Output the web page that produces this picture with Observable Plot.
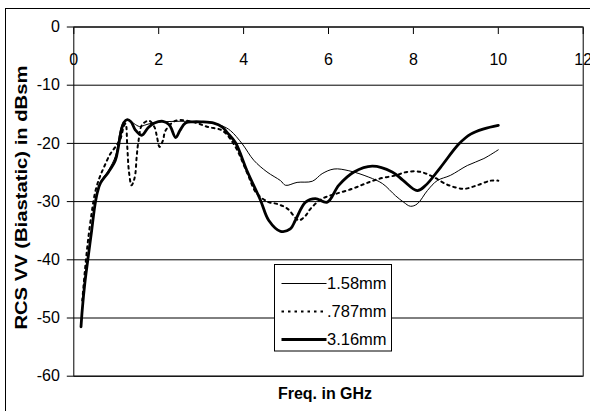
<!DOCTYPE html>
<html>
<head>
<meta charset="utf-8">
<script src="https://cdn.jsdelivr.net/npm/d3@7"></script>
<script src="https://cdn.jsdelivr.net/npm/@observablehq/plot@0.6"></script>
<style>
  html, body { margin: 0; padding: 0; background: #fff; overflow: hidden; }
  #chart svg { display: block; }
</style>
</head>
<body>
<div id="chart"></div>
<script>
// Bistatic RCS (VV) versus frequency for three thicknesses
const freq158 = [0.2,0.26,0.33,0.42,0.5,0.56,0.63,0.82,0.98,1.05,1.12,1.2,1.3,1.42,1.55,1.7,1.85,2.1,2.5,3.0,3.3,3.5,3.69,3.97,4.24,4.55,4.87,4.99,5.26,5.62,5.85,6.13,6.48,6.95,7.27,7.58,7.77,7.93,8.09,8.33,8.56,8.87,9.27,9.66,10.0];
const rcs158  = [-47,-43.5,-39.8,-35,-30.5,-28.2,-26.6,-24.6,-22.2,-19.6,-17.1,-16.1,-16,-16.6,-17.1,-16.8,-16.5,-16.3,-16.2,-16.3,-16.6,-17.0,-17.8,-20.1,-22.9,-24.9,-26.4,-27.2,-26.7,-26.5,-25.2,-24.4,-24.7,-25.8,-26.9,-29.0,-30.1,-30.8,-30.4,-28.1,-26.4,-25.5,-23.8,-22.6,-21.1];

const freq787 = [0.2,0.26,0.33,0.42,0.5,0.6,0.71,0.86,0.98,1.1,1.18,1.22,1.26,1.3,1.36,1.41,1.45,1.48,1.52,1.61,1.77,1.9,1.96,2.02,2.1,2.16,2.4,2.8,3.17,3.5,3.8,4.08,4.3,4.59,4.79,5.03,5.3,5.45,5.58,5.85,6.16,6.56,6.87,7.18,7.58,7.85,8.17,8.48,8.8,9.19,9.5,9.82,10.0];
const rcs787  = [-47,-42,-37,-32,-28.5,-26,-24.1,-21.8,-20.6,-19.2,-17,-16.6,-20.6,-24.9,-27.2,-26.5,-25.2,-22.4,-19.8,-16.8,-16.1,-17.2,-18.9,-20.6,-19.5,-17.8,-16.1,-16.3,-17.2,-17.8,-20.5,-25,-28.5,-30.1,-30.4,-31.2,-33.2,-32.5,-31.2,-29.5,-28.7,-27.8,-26.9,-26.1,-25.5,-24.9,-24.9,-25.8,-27.1,-27.8,-27.2,-26.4,-26.4];

const freq316 = [0.17,0.2,0.26,0.33,0.42,0.5,0.56,0.63,0.82,0.98,1.05,1.1,1.18,1.26,1.35,1.45,1.6,1.75,1.9,2.1,2.25,2.4,2.5,2.63,2.8,3.0,3.3,3.5,3.61,3.81,4.08,4.4,4.59,4.87,5.1,5.22,5.46,5.69,5.97,6.24,6.6,7.03,7.5,7.75,8.09,8.29,8.64,9.07,9.35,9.66,10.0];
const rcs316  = [-51.5,-48.5,-44,-40,-35,-30.5,-28.3,-26.8,-24.9,-22.9,-20.6,-18.4,-16.4,-15.9,-16.3,-17.7,-18.6,-17.3,-16.5,-16.2,-16.8,-19.0,-17.8,-16.5,-16.3,-16.3,-16.5,-17.2,-18.1,-19.9,-24.7,-29.8,-33.2,-35.1,-34.7,-33.2,-30.1,-29.5,-30.1,-27.2,-24.9,-23.9,-24.9,-26.3,-28.1,-27.2,-24.1,-20.1,-18.4,-17.5,-16.9];

const seriesNames = ["1.58mm", ".787mm", "3.16mm"];
const xTicks = [0, 2, 4, 6, 8, 10, 12];
const yTicks = [0, -10, -20, -30, -40, -50, -60];
const xTitle = "Freq. in GHz";
const yTitle = "RCS VV (Biastatic) in dBsm";

const toRows = (fs, vs) => fs.map((f, i) => ({f, v: vs[i]}));
const rows158 = toRows(freq158, rcs158);
const rows787 = toRows(freq787, rcs787);
const rows316 = toRows(freq316, rcs316);

const styles = [
  {strokeWidth: 1, strokeDasharray: null},
  {strokeWidth: 2, strokeDasharray: "2.5,4"},
  {strokeWidth: 2.8, strokeDasharray: null}
];

const font = "'Liberation Sans', Arial, sans-serif";

const chart = Plot.plot({
  width: 590,
  height: 411,
  marginLeft: 73.3,
  marginRight: 7.3,
  marginTop: 26.5,
  marginBottom: 35.3,
  style: {fontFamily: font, fontSize: "16px", background: "#fff", color: "#000"},
  x: {domain: [0, 12]},
  y: {domain: [-60, 0]},
  marks: [
    Plot.gridY(yTicks, {stroke: "#000", strokeOpacity: 1, strokeWidth: 1}),
    Plot.frame({stroke: "#000", strokeWidth: 1}),
    Plot.axisY({ticks: yTicks, tickSize: 6.5, tickPadding: 7.5, tickFormat: d => String(d), fontSize: 16, label: null}),
    Plot.axisX({anchor: "top", ticks: xTicks, tickSize: -6.5, tickFormat: () => "", label: null}),
    Plot.text(xTicks, {x: d => d, text: d => String(d), frameAnchor: "top", lineAnchor: "middle", dy: 32.5, fontSize: 16}),
    Plot.text([yTitle], {text: d => d, frameAnchor: "left", textAnchor: "middle", lineAnchor: "middle", dx: -51.8, dy: -4, rotate: -90, fontWeight: "bold", fontSize: 17, className: "ytitle"}),
    Plot.text([xTitle], {text: d => d, frameAnchor: "bottom", lineAnchor: "middle", dx: -3.5, dy: 18, fontWeight: "bold", fontSize: 16}),
    Plot.line(rows158, {x: "f", y: "v", curve: "catmull-rom", stroke: "#000", ...styles[0]}),
    Plot.line(rows787, {x: "f", y: "v", curve: "catmull-rom", stroke: "#000", ...styles[1]}),
    Plot.line(rows316, {x: "f", y: "v", curve: "catmull-rom", stroke: "#000", ...styles[2]})
  ]
});

document.getElementById("chart").appendChild(chart);

const svg = d3.select(chart);

// The vertical axis title is set a little wider than the font's natural width
svg.selectAll("g.ytitle text").attr("textLength", 264).attr("lengthAdjust", "spacingAndGlyphs");

// Outer chart border and the boxed legend
svg.insert("rect", ":first-child")
  .attr("x", 5.5).attr("y", 8.5).attr("width", 600).attr("height", 420)
  .attr("fill", "#fff").attr("stroke", "#000").attr("stroke-width", 1);

const legend = svg.append("g").attr("transform", "translate(274.5,264.5)");
legend.append("rect").attr("width", 117).attr("height", 86.5)
  .attr("fill", "#fff").attr("stroke", "#000").attr("stroke-width", 1);
seriesNames.forEach((name, i) => {
  const y = 19 + i * 28;
  legend.append("line")
    .attr("x1", 7).attr("x2", 52).attr("y1", y).attr("y2", y)
    .attr("stroke", "#000").attr("stroke-width", styles[i].strokeWidth)
    .attr("stroke-dasharray", styles[i].strokeDasharray);
  legend.append("text")
    .attr("x", 52.5).attr("y", y).attr("dy", "0.35em")
    .attr("text-anchor", "start")
    .attr("font-family", font).attr("font-size", 16.5)
    .text(name);
});
</script>
</body>
</html>
